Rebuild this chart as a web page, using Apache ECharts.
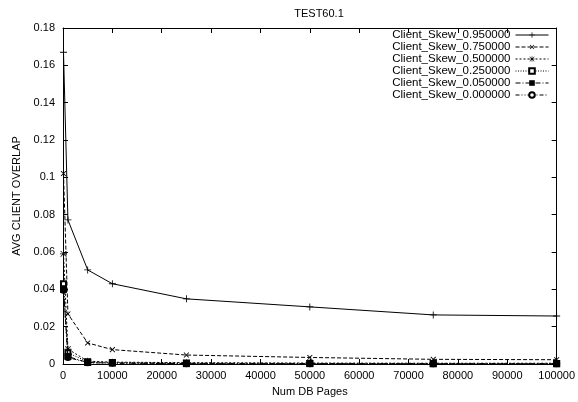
<!DOCTYPE html>
<html>
<head>
<meta charset="utf-8">
<script src="https://cdn.jsdelivr.net/npm/echarts@6/dist/echarts.min.js"></script>
<style>html,body{margin:0;padding:0;background:#fff;}#c{width:578px;height:402px;}</style>
</head>
<body>
<div id="c"></div>
<script>
const title = 'TEST60.1';
const xName = 'Num DB Pages';
const yName = 'AVG CLIENT OVERLAP';
const pages = [100, 1000, 5000, 10000, 25000, 50000, 75000, 100000];
const seriesNames = ['Client_Skew_0.950000','Client_Skew_0.750000','Client_Skew_0.500000','Client_Skew_0.250000','Client_Skew_0.050000','Client_Skew_0.000000'];
const skew095 = [0.167, 0.0772, 0.0504, 0.0430, 0.0349, 0.0306, 0.0263, 0.0257];
const skew075 = [0.102, 0.0268, 0.0113, 0.0077, 0.0048, 0.0035, 0.0025, 0.0023];
const skew050 = [0.059, 0.0080, 0.0015, 0.0010, 0.0007, 0.0005, 0.0004, 0.0004];
const skew025 = [0.043, 0.0060, 0.0012, 0.0008, 0.0005, 0.0003, 0.0003, 0.0003];
const skew005 = [0.040, 0.0040, 0.0008, 0.0005, 0.0002, 0.0002, 0.0001, 0.0001];
const skew000 = [0.0395, 0.0035, 0.0007, 0.0004, 0.0002, 0.0001, 0.0001, 0.0001];

const plusPath = 'path://M4.4,0H5.6V4.4H10V5.6H5.6V10H4.4V5.6H0V4.4H4.4Z';
const starPath = 'path://M4.5,0H5.5V4.5H10V5.5H5.5V10H4.5V5.5H0V4.5H4.5Z M1.2,0.5L5,4.3L8.8,0.5L9.5,1.2L5.7,5L9.5,8.8L8.8,9.5L5,5.7L1.2,9.5L0.5,8.8L4.3,5L0.5,1.2Z';
const styles = [
  {data: skew095, symbol: plusPath, size: 7, rotate: 0, type: 'solid', z: 2},
  {data: skew075, symbol: plusPath, size: 7, rotate: 45, type: [4, 2], z: 2},
  {data: skew050, symbol: starPath, size: 7, rotate: 0, type: [2, 2], z: 2},
  {data: skew025, symbol: 'emptyRect', size: 5, rotate: 0, type: [1, 1.5], z: 2},
  {data: skew005, symbol: 'rect', size: 7, rotate: 0, type: [5, 2, 1, 2], z: 4},
  {data: skew000, symbol: 'emptyCircle', size: 5, rotate: 0, type: [4, 2, 1, 2, 1, 2], z: 3}
];

const font = 'Liberation Sans, Arial, sans-serif';
const chart = echarts.init(document.getElementById('c'), null, {renderer: 'canvas'});
const axisBase = {
  axisLine: {show: true, onZero: false, lineStyle: {color: '#000', width: 1}},
  axisTick: {show: true, inside: true, length: 5, lineStyle: {color: '#000'}},
  splitLine: {show: false}
};
chart.setOption({
  backgroundColor: '#fff',
  animation: false,
  title: {text: title, left: 314, textAlign: 'center', top: 3, textStyle: {fontFamily: font, fontSize: 11, fontWeight: 'normal', color: '#000'}},
  grid: {left: 63, right: 13, top: 28, bottom: 38},
  legend: {
    orient: 'vertical', right: 24, top: 24, align: 'right', itemGap: 0,
    itemWidth: 33, itemHeight: 7,
    lineStyle: {width: 1},
    textStyle: {fontFamily: font, fontSize: 11.5, lineHeight: 11.6, height: 11.6, color: '#000', padding: [0, 0, 0, 0]},
    data: seriesNames
  },
  xAxis: [
    Object.assign({}, axisBase, {type: 'value', min: 0, max: 100000, interval: 10000, position: 'bottom',
      name: xName, nameLocation: 'middle', nameGap: 22,
      nameTextStyle: {fontFamily: font, fontSize: 11, color: '#000'},
      axisLabel: {fontFamily: font, fontSize: 11, color: '#000', margin: 6, formatter: v => String(v)}}),
    Object.assign({}, axisBase, {type: 'value', min: 0, max: 100000, interval: 10000, position: 'top', axisLabel: {show: false}})
  ],
  yAxis: [
    Object.assign({}, axisBase, {type: 'value', min: 0, max: 0.18, interval: 0.02, position: 'left',
      name: yName, nameLocation: 'middle', nameGap: 28,
      nameTextStyle: {fontFamily: font, fontSize: 11, color: '#000'},
      axisLabel: {fontFamily: font, fontSize: 11, color: '#000', margin: 8}}),
    Object.assign({}, axisBase, {type: 'value', min: 0, max: 0.18, interval: 0.02, position: 'right', axisLabel: {show: false}})
  ],
  series: styles.map((s, i) => ({
    name: seriesNames[i],
    type: 'line',
    xAxisIndex: 0, yAxisIndex: 0,
    z: s.z,
    data: pages.map((p, j) => [p, s.data[j]]),
    symbol: s.symbol, symbolSize: s.size, symbolRotate: s.rotate,
    showAllSymbol: true,
    color: '#000',
    itemStyle: {color: '#000', borderColor: '#000', borderWidth: s.symbol.indexOf('empty') === 0 ? 1 : 0},
    lineStyle: {color: '#000', width: 1, type: s.type},
    emphasis: {disabled: true}
  }))
});
</script>
</body>
</html>
